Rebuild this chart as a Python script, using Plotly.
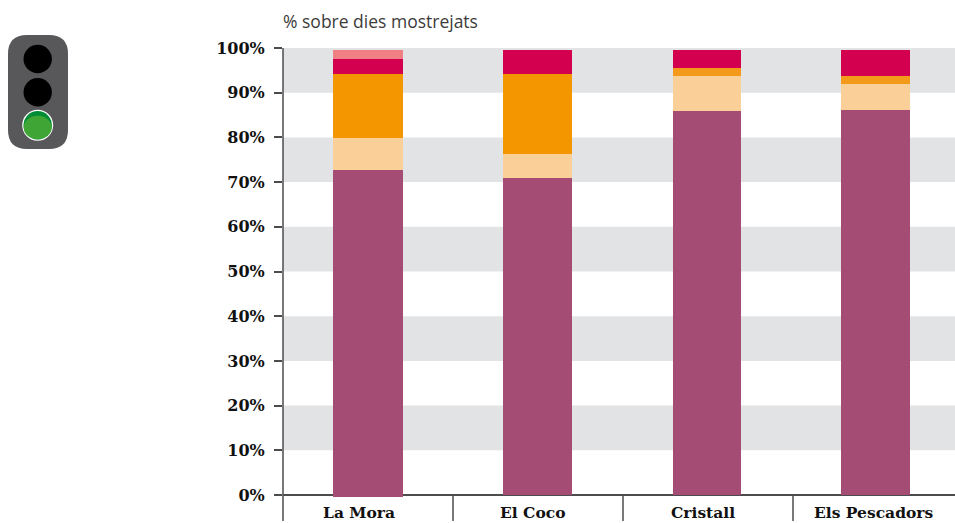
import plotly.graph_objects as go

W, H = 955, 523
categories = ["La Mora", "El Coco", "Cristall", "Els Pescadors"]
series_a = [72.7, 70.9, 85.9, 86.1]
series_b = [7.2, 5.4, 7.8, 5.8]
series_c = [14.3, 17.9, 1.8, 1.8]
series_d = [3.3, 5.3, 4.0, 5.8]
series_e = [2.05, 0.0, 0.0, 0.0]
series_neg = [-0.4, 0.0, 0.0, 0.0]
y_ticks = list(range(0, 101, 10))
y_labels = [f"{v}%" for v in y_ticks]
band_starts = [10, 30, 50, 70, 90]
colors = ["#A54C75", "#FBCF98", ["#F39600", "#F39600", "#F39A1B", "#F39A1B"], "#D2004F", "#F08084"]
bar_widths = [70 / 170, 69 / 170, 68 / 170, 69 / 170]
bar_offsets = [-35 / 170, -35 / 170, -35 / 170, -37 / 170]
SERIF = "DejaVu Serif, serif"
SANS = "Open Sans, sans-serif"
DARK = "#4C4C4E"

def px(x): return x / W
def py(y): return 1 - y / H

fig = go.Figure()
for vals, col in zip([series_a, series_b, series_c, series_d, series_e], colors):
    fig.add_bar(x=categories, y=vals, marker=dict(color=col, line=dict(width=0)),
                width=bar_widths, offset=bar_offsets, showlegend=False)
fig.add_bar(x=categories, y=series_neg, marker=dict(color=colors[0], line=dict(width=0)),
            width=bar_widths, offset=bar_offsets, showlegend=False)

shapes = []
for b in band_starts:
    shapes.append(dict(type="rect", xref="paper", yref="y", x0=px(283), x1=1, y0=b, y1=b + 10,
                       fillcolor="#E2E3E5", line_width=0, layer="below"))
shapes.append(dict(type="line", xref="paper", yref="paper", x0=px(283), x1=px(283), y0=py(521), y1=py(48),
                   line=dict(color=DARK, width=1.5)))
for i in range(3):
    shapes.append(dict(type="line", xref="x", yref="paper", x0=i + 0.5, x1=i + 0.5, y0=py(521), y1=py(495),
                       line=dict(color=DARK, width=1.5)))
def ell(cx, cy, rx, ry, fill):
    return dict(type="circle", xref="paper", yref="paper", x0=px(cx - rx), x1=px(cx + rx), y0=py(cy + ry), y1=py(cy - ry),
                fillcolor=fill, line_width=0)
shapes.append(dict(type="path", xref="paper", yref="paper", line_width=0, fillcolor="#58585A",
                   path=" ".join([
                       f"M {px(27)} {py(35)} L {px(49)} {py(35)} Q {px(68)} {py(35)} {px(68)} {py(54)}",
                       f"L {px(68)} {py(130)} Q {px(68)} {py(149)} {px(49)} {py(149)}",
                       f"L {px(27)} {py(149)} Q {px(8)} {py(149)} {px(8)} {py(130)}",
                       f"L {px(8)} {py(54)} Q {px(8)} {py(35)} {px(27)} {py(35)} Z"])))
shapes += [ell(37.7, 59, 14.2, 14.2, "#000000"), ell(37.7, 92.3, 14.2, 14.2, "#000000"),
           ell(37.7, 125.3, 15.5, 15.5, "#FFFFFF"), ell(37.7, 125.3, 14.2, 14.2, "#008D36"),
           ell(37.7, 127.5, 14.0, 11.7, "#3FA535")]

annotations = [dict(text="% sobre dies mostrejats", xref="paper", yref="paper", x=px(283), y=py(21), xshift=-2,
                    xanchor="left", yanchor="middle", showarrow=False, font=dict(family=SANS, size=17.5, color="#3C3C3B"))]
for cat, shift in zip(categories, [-9, -5, -5.5, -5]):
    annotations.append(dict(text=f"<b>{cat}</b>", xref="x", yref="paper", x=cat, y=py(512.5), xshift=shift,
                            xanchor="center", yanchor="middle", showarrow=False,
                            font=dict(family=SERIF, size=15.5, color="#111111")))

fig.update_layout(
    width=W, height=H, barmode="relative", bargap=0,
    margin=dict(l=0, r=0, t=0, b=0, autoexpand=False),
    paper_bgcolor="#FFFFFF", plot_bgcolor="rgba(0,0,0,0)",
    shapes=shapes, annotations=annotations,
    xaxis=dict(domain=[px(283), 1], range=[-0.5, -0.5 + 672 / 170], showticklabels=False, ticks="",
               showgrid=False, zeroline=False, showline=False, categoryorder="array", categoryarray=categories),
    yaxis=dict(domain=[py(521), py(48)], range=[-26 / 4.47, 100], tickvals=y_ticks, ticktext=[f"<b>{t}</b>" for t in y_labels],
               ticks="outside", ticklen=8, tickwidth=1.5, tickcolor=DARK, showgrid=False,
               showline=False, ticklabelstandoff=6,
               zeroline=True, zerolinecolor=DARK, zerolinewidth=1.5,
               tickfont=dict(family=SERIF, size=16, color="#111111")),
)
fig.write_html("out.html", config={"displayModeBar": False}, post_script="document.body.style.margin='0';")
